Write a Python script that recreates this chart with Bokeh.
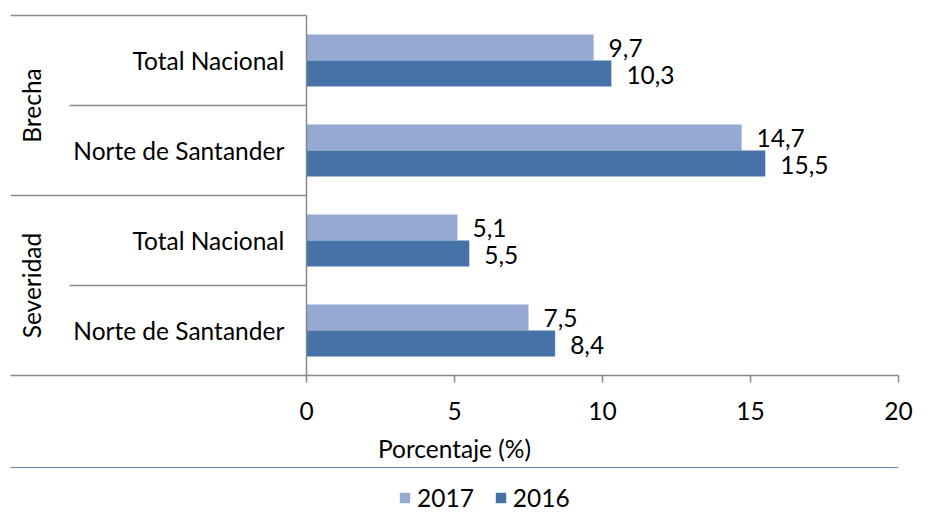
from math import pi
from bokeh.plotting import figure
from bokeh.layouts import column
from bokeh.models import Range1d, FixedTicker, ColumnDataSource, Legend, LegendItem
from bokeh.core.properties import value
from bokeh.embed import file_html
from bokeh.resources import INLINE

groups = ["Brecha", "Severidad"]
subcats = ["Total Nacional", "Norte de Santander", "Total Nacional", "Norte de Santander"]
v2017 = [9.7, 14.7, 5.1, 7.5]
v2016 = [10.3, 15.5, 5.5, 8.4]
xticks = [0, 5, 10, 15, 20]
series = ["2017", "2016"]

FONT = "Lato"
FS = "24.5px"
GRAY = "#898989"
C17 = "#95A9D2"
C16 = "#4672A7"

n = len(subcats)
centers = [n - 0.5 - i for i in range(n)]
bh = 0.29

p = figure(frame_width=888, frame_height=362, output_backend="svg", toolbar_location=None,
           x_range=Range1d(-10, 20), y_range=Range1d(0, n + 0.0222),
           min_border_left=10, min_border_right=15, min_border_top=13, min_border_bottom=92,
           y_axis_location=None)
p.outline_line_color = None
p.grid.visible = False
p.background_fill_color = "white"

src = ColumnDataSource(dict(
    y17=[c + bh / 2 for c in centers], y16=[c - bh / 2 for c in centers],
    v17=v2017, v16=v2016,
    l17=[f"{v:.1f}".replace(".", ",") for v in v2017],
    l16=[f"{v:.1f}".replace(".", ",") for v in v2016],
    cy=centers, cat=subcats,
))

p.hbar(y="y17", height=bh, left=0, right="v17", source=src, fill_color=C17, line_color=None)
p.hbar(y="y16", height=bh, left=0, right="v16", source=src, fill_color=C16, line_color=None)

p.text(x="v17", y="y17", text="l17", source=src, x_offset=15, y_offset=1,
       text_font=value(FONT), text_font_size=FS, text_baseline="middle", text_color="black")
p.text(x="v16", y="y16", text="l16", source=src, x_offset=15, y_offset=1,
       text_font=value(FONT), text_font_size=FS, text_baseline="middle", text_color="black")

# category labels
p.text(x=-0.75, y="cy", text="cat", source=src, text_font=value(FONT), text_font_size=FS,
       text_align="right", text_baseline="middle", text_color="black")

# group labels
gy = [n - 1 - 2 * i for i in range(len(groups))]
p.text(x=[-9.28] * len(groups), y=gy, text=groups, angle=pi / 2, text_font=value(FONT),
       text_font_size=FS, text_align="center", text_baseline="middle", text_color="black")

# separators
ys = list(range(1, n + 1))
x0s = [-10 if (y % 2 == 0) else -8 for y in ys]
p.segment(x0=x0s, y0=ys, x1=[0] * len(ys), y1=ys, line_color=GRAY, line_width=1.5)
p.segment(x0=[0], y0=[0], x1=[0], y1=[n], line_color=GRAY, line_width=1.5)

ax = p.xaxis[0]
ax.ticker = FixedTicker(ticks=xticks)
ax.minor_tick_line_color = None
ax.major_tick_in = 0
ax.major_tick_out = 7
ax.major_tick_line_color = GRAY
ax.major_tick_line_width = 1.5
ax.axis_line_color = GRAY
ax.axis_line_width = 1.5
ax.major_label_text_font = FONT
ax.major_label_text_font_size = FS
ax.major_label_text_color = "black"
ax.major_label_standoff = 19
ax.axis_label = "Porcentaje (%)"
ax.axis_label_text_font = FONT
ax.axis_label_text_font_size = FS
ax.axis_label_text_font_style = "normal"
ax.axis_label_text_color = "black"
ax.axis_label_standoff = 11

# legend strip below the chart (legend keys reuse the series; their bars lie outside this strip's view)
pl = figure(width=913, height=46, output_backend="svg", toolbar_location=None,
            x_range=Range1d(0, 1), y_range=Range1d(-10, -9),
            x_axis_location=None, y_axis_location=None, min_border=0)
pl.outline_line_color = None
pl.grid.visible = False
k17 = pl.hbar(y="y17", height=bh, left=0, right="v17", source=src, fill_color=C17, line_color=None)
k16 = pl.hbar(y="y16", height=bh, left=0, right="v16", source=src, fill_color=C16, line_color=None)

legend = Legend(items=[LegendItem(label=series[0], renderers=[k17]),
                       LegendItem(label=series[1], renderers=[k16])],
                orientation="horizontal", location=(388, 1),
                label_text_font=FONT, label_text_font_size=FS, label_text_color="black",
                glyph_width=13, glyph_height=13, label_standoff=6, spacing=20,
                padding=0, margin=0, border_line_color=None, background_fill_alpha=0)
pl.add_layout(legend, "center")

layout = column(p, pl, spacing=0)
open("out.html", "w").write(file_html(layout, INLINE))
